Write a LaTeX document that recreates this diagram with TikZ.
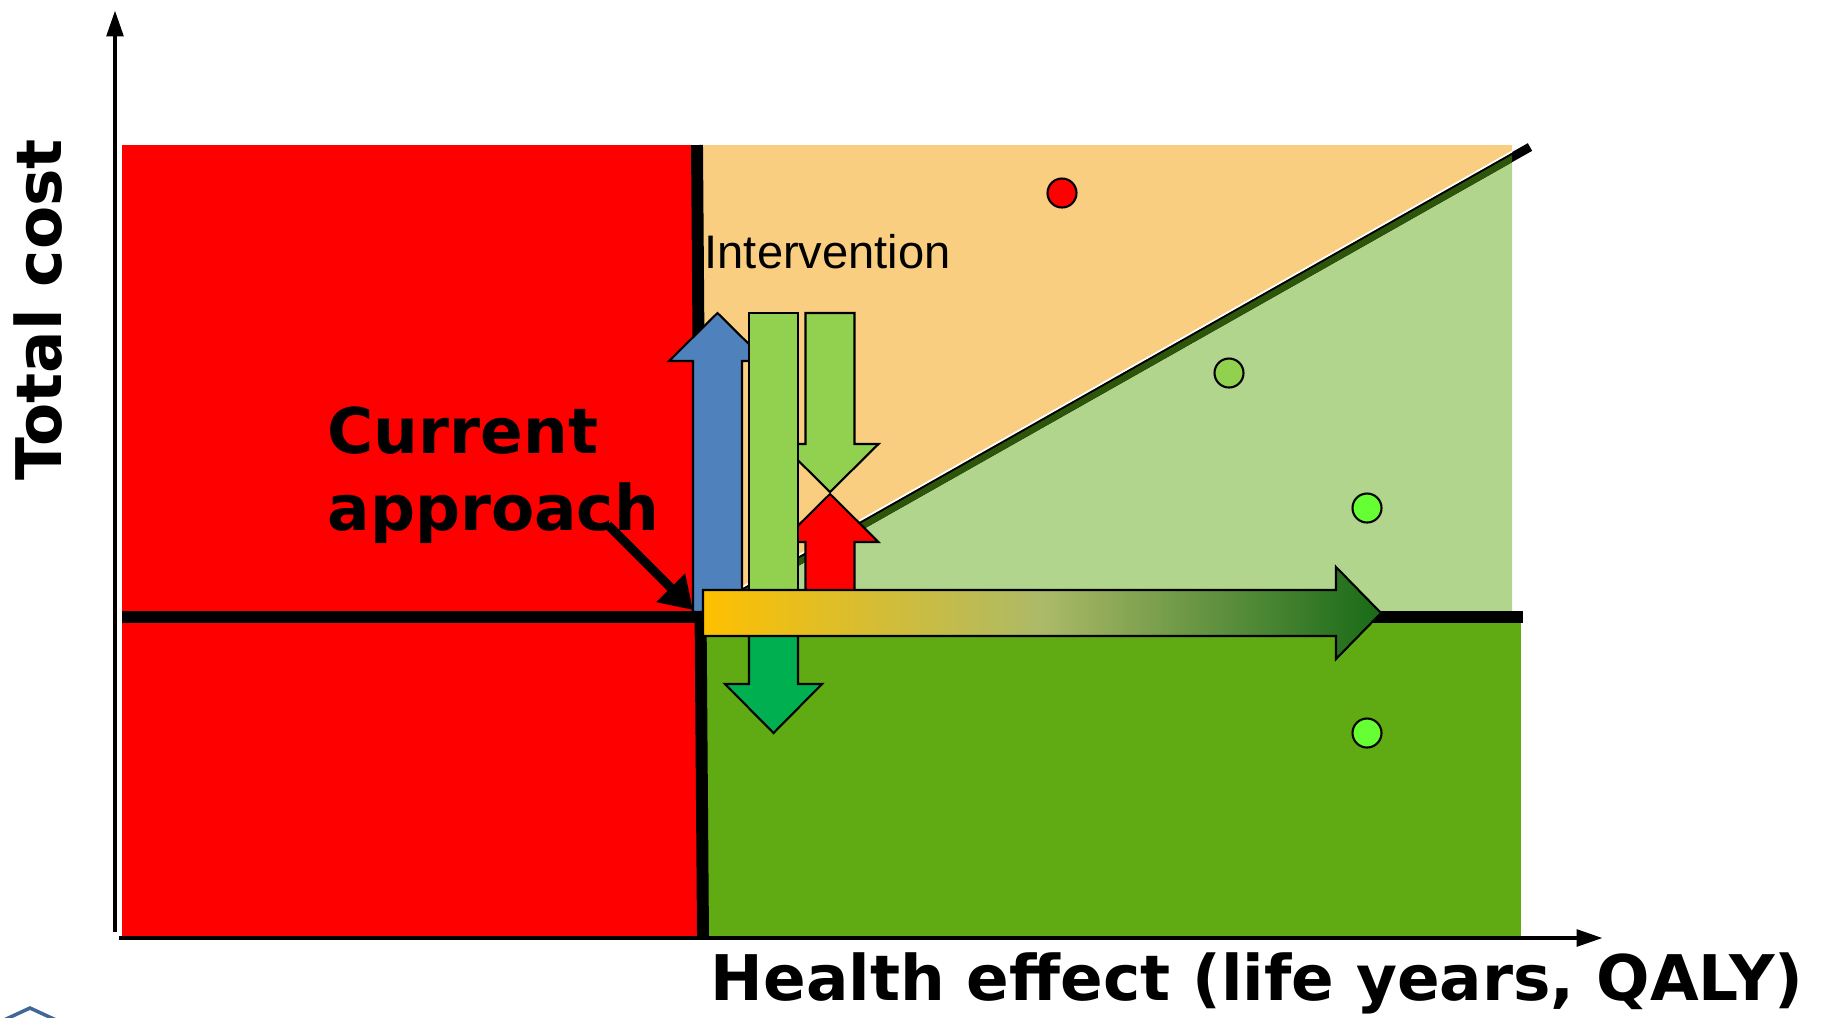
\documentclass[tikz,border=0pt]{standalone}
\usepackage{fontspec}
\setmainfont{Liberation Sans}
\newfontfamily\headfont{DejaVu Sans}
\usetikzlibrary{arrows.meta, positioning, calc}

\definecolor{costred}{RGB}{255,0,0}
\definecolor{costorange}{RGB}{250,206,128}
\definecolor{paleleaf}{RGB}{177,213,141}
\definecolor{grassgreen}{RGB}{96,170,20}
\definecolor{lineshade}{RGB}{46,86,10}
\definecolor{arrowblue}{RGB}{79,129,189}
\definecolor{arrowlime}{RGB}{146,208,80}
\definecolor{arrowgreen}{RGB}{0,176,80}
\definecolor{dotlime}{RGB}{102,255,51}
\definecolor{gradgold}{RGB}{255,192,0}
\definecolor{gradmid}{RGB}{172,186,104}
\definecolor{gradforest}{RGB}{24,106,23}

\pgfdeclarehorizontalshading{effectshade}{100bp}{color(0bp)=(gradgold); color(25bp)=(gradgold); color(50bp)=(gradmid); color(75bp)=(gradforest); color(100bp)=(gradforest)}

\tikzset{
  blockline/.style={draw=black, line width=0.6pt, line join=miter},
  bigline/.style={line width=3.4pt},
  axisline/.style={line width=1.4pt, -{Triangle[length=7.5pt,width=4.6pt]}},
  dot/.style={circle, draw=black, line width=0.6pt, minimum size=2.9mm, inner sep=0pt},
  boldlabel/.style={font=\headfont\bfseries\fontsize{17.9}{21.9}\selectfont, inner sep=0pt},
}

% vertical block arrow: fill, centre x, tail y, head-base y, tip y
\newcommand{\vblock}[5]{%
  \filldraw[blockline, fill=#1] (#2-24.5,#3) -- (#2-24.5,#4) -- (#2-48.5,#4) -- (#2,#5)
    -- (#2+48.5,#4) -- (#2+24.5,#4) -- (#2+24.5,#3) -- cycle;}

\begin{document}
\begin{tikzpicture}[x=0.1mm, y=-0.1mm]
\useasboundingbox (0,0) rectangle (1825,1017);

% quadrants
\fill[costred] (122,145) rectangle (698,937);
\fill[costorange] (698,145) rectangle (1512,617);
\fill[paleleaf] (699,615) -- (1512,155) -- (1512,617) -- cycle;
\fill[grassgreen] (703,617) rectangle (1521,937);

% threshold line, darker where it runs over the green
\coordinate (origin) at (699,617);
\coordinate (wtp) at (1530,147);
\draw[line width=2.5pt] (origin) -- (wtp);
\begin{scope}
  \clip (699,615) -- (1512,155) -- (1512,640) -- cycle;
  \draw[lineshade, line width=2.5pt] (origin) -- (wtp);
\end{scope}
\draw[white, line width=0.5pt] ([yshift=0.55mm]origin) -- ([yshift=0.55mm]1512,157);

% cross lines through the current approach
\draw[bigline] (697,145) -- (703,937);
\draw[bigline] (122,617) -- (1523,617);

% axes
\coordinate (ybot) at (115,932);
\coordinate (ytop) at (115,10);
\coordinate (xleft) at (119,938);
\coordinate (xright) at (1603,938);
\draw[axisline] (ybot) -- (ytop);
\draw[axisline] (xleft) -- (xright);

% dots
\node[dot, fill=costred] (dotred) at (1062,193) {};
\node[dot, fill=arrowlime] (dotlime) at (1229,373) {};
\node[dot, fill=dotlime] (dotbright) at (1367,508) {};
\node[dot, fill=dotlime] (dotlow) at (1367,733) {};

% labels
\node[boldlabel, rotate=90, anchor=base] (costlabel) at (62,310) {Total cost};
\node[boldlabel, anchor=base west] (effectlabel) at (710,1000) {Health effect (life years, QALY)};
\node[boldlabel, align=left, anchor=base west] (current) at (327,530) {Current\\approach};
\node[font=\fontsize{13.4}{16}\selectfont, inner sep=0pt, anchor=base west] (intervention) at (704,268) {Intervention};

% block arrows
\vblock{arrowblue}{717.5}{612}{361}{313}
\vblock{arrowlime}{830}{313}{444}{492}
\vblock{costred}{830}{600}{542}{494}
\filldraw[blockline, fill=arrowlime] (749,313) rectangle (798,600);
\vblock{arrowgreen}{773.5}{600}{684}{733}
\shadedraw[shading=effectshade, blockline] (703,590) -- (1336,590) -- (1336,567) -- (1381,613)
  -- (1336,659) -- (1336,636) -- (703,636) -- cycle;

% pointer to the current approach
\coordinate (pointerstart) at (608,525);
\coordinate (pointertip) at (693,610);
\draw[line width=2.6pt, -{Triangle[length=9pt,width=11pt]}] (pointerstart) -- (pointertip);

% logo corner
\draw[arrowblue!80!black, line width=1pt] (4,1020) -- (30,1008) -- (56,1020);
\end{tikzpicture}
\end{document}
